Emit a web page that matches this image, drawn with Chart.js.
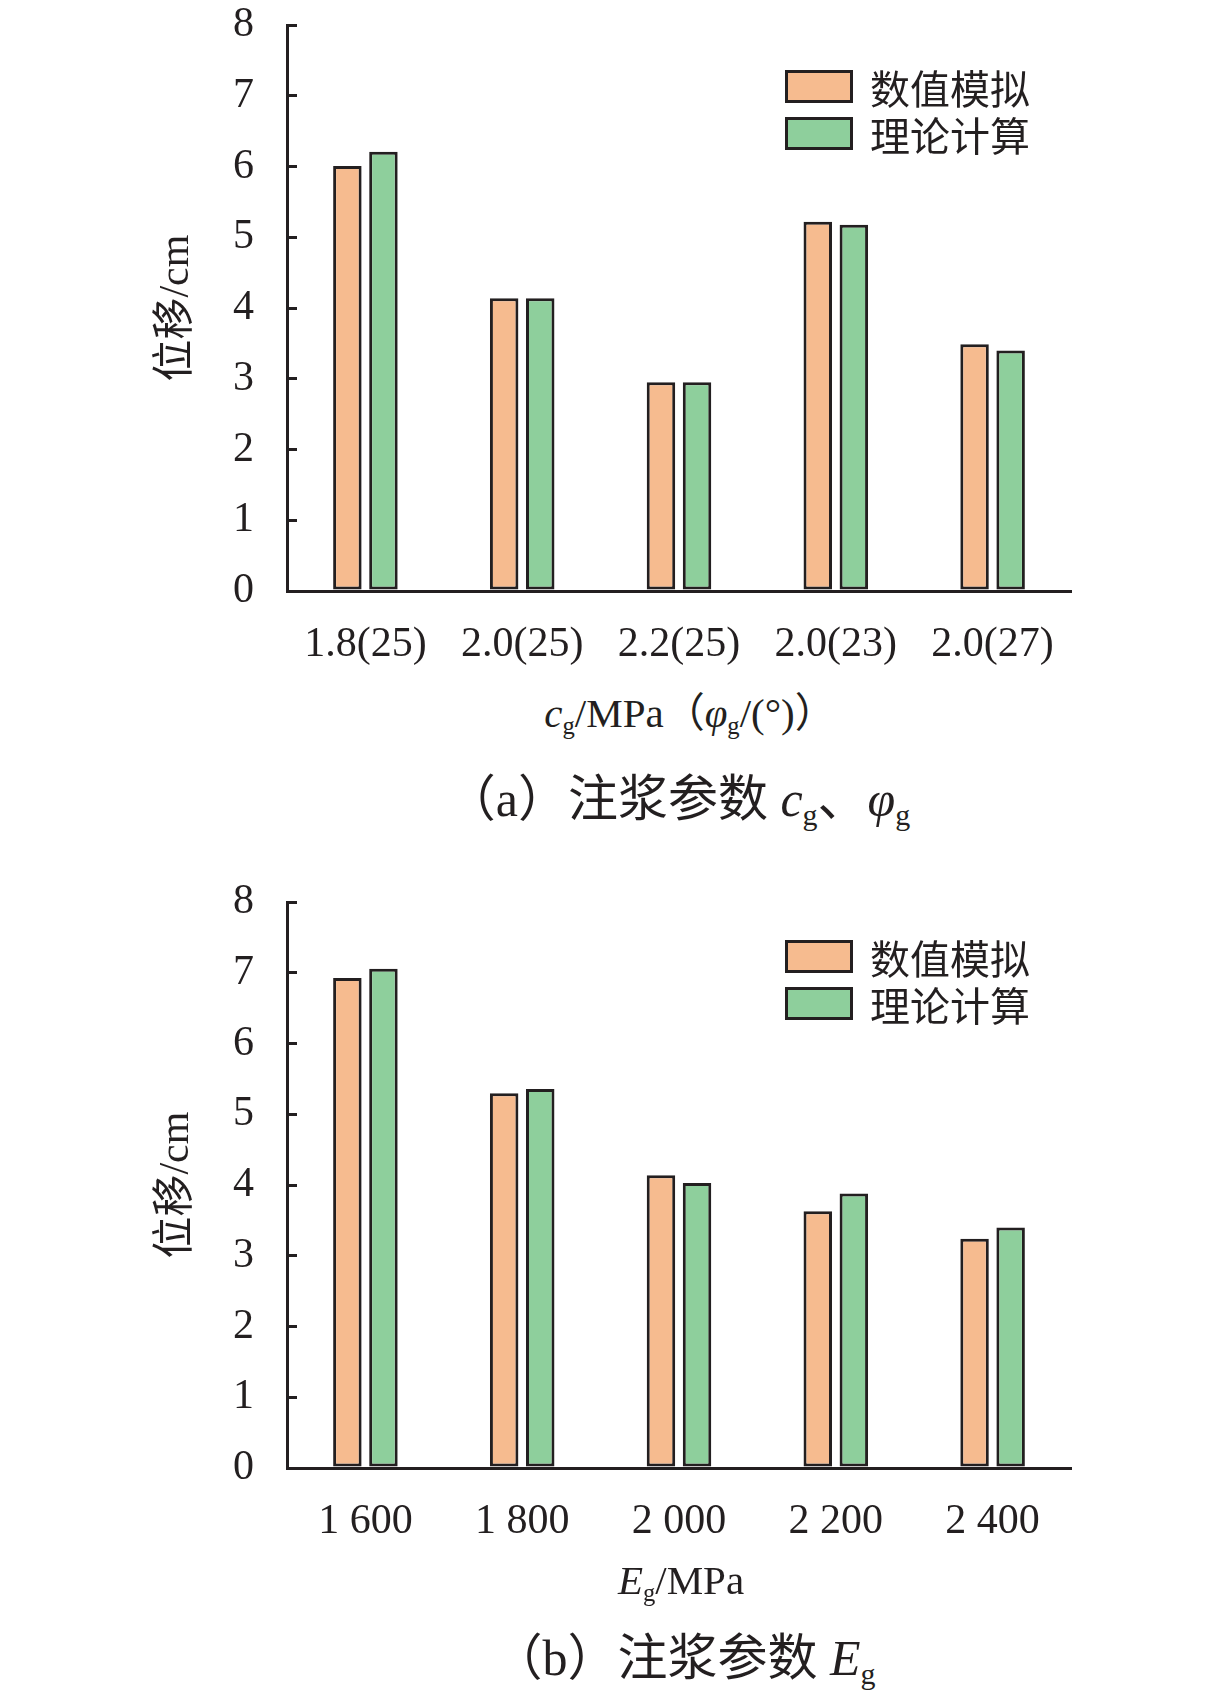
<!DOCTYPE html>
<html>
<head>
<meta charset="utf-8">
<script src="https://cdn.jsdelivr.net/npm/chart.js@4.4.1/dist/chart.umd.min.js"></script>
<style>
	body { margin: 0; background: #fff; }
	#page { position: relative; width: 1228px; height: 1707px; overflow: hidden; font-family: 'Liberation Serif', 'Noto Sans CJK SC', serif; color: #231f20; }
	canvas { position: absolute; left: 0; }
	.txt { position: absolute; white-space: nowrap; transform: translate(-50%, -50%); line-height: 1; }
	.txt sub { font-size: 0.6em; vertical-align: -0.3em; line-height: 0; }
	.legend { position: absolute; left: 785px; font-size: 40px; }
	.legend div { display: flex; align-items: center; height: 33px; margin-bottom: 14px; }
	.legend span.box { display: inline-block; box-sizing: border-box; width: 68px; height: 33px; border: 3px solid #231f20; margin-right: 17px; }
</style>
</head>
<body>
<div id="page">
	<canvas id="chartA" width="1228" height="723" style="top:-43px;width:1228px;height:723px"></canvas>
	<canvas id="chartB" width="1228" height="723" style="top:834px;width:1228px;height:723px"></canvas>
	<div class="legend" id="legendA" style="top:70px"></div>
	<div class="legend" id="legendB" style="top:940px"></div>
	<div class="txt" style="left:690px;top:713px;font-size:41px"><i>c</i><sub>g</sub>/MPa（<i>φ</i><sub>g</sub>/(°)）</div>
	<div class="txt" style="left:678px;top:799px;font-size:50px">（a）注浆参数 <i>c</i><sub>g</sub>、<i>φ</i><sub>g</sub></div>
	<div class="txt" style="left:681px;top:1580px;font-size:41px"><i>E</i><sub>g</sub>/MPa</div>
	<div class="txt" style="left:684px;top:1658px;font-size:50px">（b）注浆参数 <i>E</i><sub>g</sub></div>
</div>
<script>
// data
const seriesNames = ['数值模拟', '理论计算'];
const categoriesA = ['1.8(25)', '2.0(25)', '2.2(25)', '2.0(23)', '2.0(27)'];
const simA = [6.01, 4.14, 2.95, 5.22, 3.49];
const theoryA = [6.21, 4.14, 2.95, 5.18, 3.4];
const categoriesB = ['1 600', '1 800', '2 000', '2 200', '2 400'];
const simB = [6.93, 5.3, 4.14, 3.63, 3.24];
const theoryB = [7.06, 5.36, 4.03, 3.88, 3.4];
const yMin = 0;
const yMax = 8;
const yStep = 1;

const ink = '#231f20';
const colors = ['#f6bb8f', '#8ecf9c'];

Chart.defaults.font.family = "'Liberation Serif', 'Noto Sans CJK SC', serif";
Chart.defaults.color = ink;

function makeChart(id, labels, sim, theory) {
	const ctx = document.getElementById(id).getContext('2d');
	const datasets = [sim, theory].map((values, i) => ({
		label: seriesNames[i],
		data: values,
		backgroundColor: colors[i],
		borderColor: ink,
		borderWidth: 3,
		borderSkipped: false,
		barPercentage: 0.79,
		categoryPercentage: 0.46,
	}));

	return new Chart(ctx, {
		type: 'bar',
		data: { labels, datasets },
		options: {
			responsive: false,
			animation: false,
			layout: { padding: { left: 148, right: 157, top: 24, bottom: 0 } },
			plugins: { legend: { display: false }, tooltip: { enabled: false } },
			scales: {
				x: {
					grid: { display: false },
					border: { display: true, color: ink, width: 3 },
					ticks: { font: { size: 42 }, padding: 21, maxRotation: 0 },
					afterFit: (scale) => { scale.height = 89; },
				},
				y: {
					min: yMin,
					max: yMax,
					grid: { drawOnChartArea: false, drawTicks: true, tickLength: -10, color: ink, lineWidth: 3 },
					border: { display: true, color: ink, width: 3 },
					ticks: { stepSize: yStep, font: { size: 42 }, padding: 43 },
					title: { display: true, text: '位移/cm', font: { size: 42 }, padding: { top: 4, bottom: 4 } },
					afterFit: (scale) => { scale.width = 139; },
				},
			},
		},
	});
}

function makeLegend(id, chart) {
	const el = document.getElementById(id);
	chart.data.datasets.forEach((ds) => {
		const row = document.createElement('div');
		const box = document.createElement('span');
		box.className = 'box';
		box.style.background = ds.backgroundColor;
		row.appendChild(box);
		row.appendChild(document.createTextNode(ds.label));
		el.appendChild(row);
	});
}

const chartA = makeChart('chartA', categoriesA, simA, theoryA);
const chartB = makeChart('chartB', categoriesB, simB, theoryB);
makeLegend('legendA', chartA);
makeLegend('legendB', chartB);
</script>
</body>
</html>
